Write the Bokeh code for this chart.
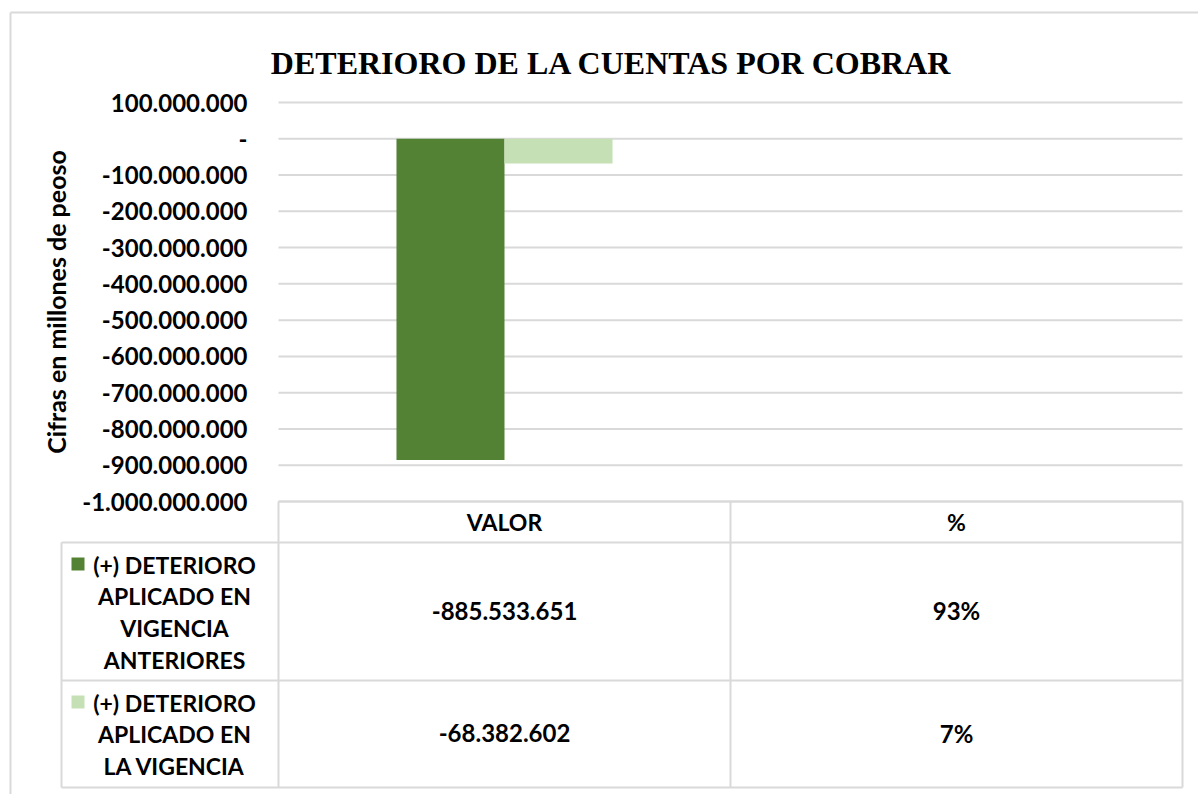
import numpy as np
from bokeh.plotting import figure
from bokeh.models import Range1d, LinearAxis, FixedTicker, ColumnDataSource, Label
from bokeh.core.properties import value
from bokeh.transform import dodge
from bokeh.embed import file_html
from bokeh.resources import INLINE

# ---------------- data ----------------
title = "DETERIORO DE LA CUENTAS POR COBRAR"
y_title = "Cifras en millones de peoso"
categories = ["VALOR", "%"]
series_names = [
    "(+) DETERIORO APLICADO EN VIGENCIA ANTERIORES",
    "(+) DETERIORO APLICADO EN LA VIGENCIA",
]
series_lines = [
    ["(+) DETERIORO", "APLICADO EN", "VIGENCIA", "ANTERIORES"],
    ["(+) DETERIORO", "APLICADO EN", "LA VIGENCIA"],
]
valor = [-885533651, -68382602]
pct = [0.93, 0.07]
pct_labels = ["93%", "7%"]
y_ticks = [100000000, 0, -100000000, -200000000, -300000000, -400000000,
           -500000000, -600000000, -700000000, -800000000, -900000000, -1000000000]
y_tick_labels = ["100.000.000", "-", "-100.000.000", "-200.000.000", "-300.000.000",
                 "-400.000.000", "-500.000.000", "-600.000.000", "-700.000.000",
                 "-800.000.000", "-900.000.000", "-1.000.000.000"]
colors = ["#548235", "#C5E0B4"]

# ---------------- layout (canvas pixels) ----------------
W, H = 1198, 794
Y_TOP_PX, Y_BOT_PX = 102, 501         # pixel rows of the top / bottom value ticks
COL0, COLW = 278, 452                 # plot area left edge, width of one category
TABLE_LEFT = 61
HEADER_BOTTOM = 542
ROW_BOTTOMS = [680, 787]
LINE_H = 31.7
GRID = "#d9d9d9"
FONT = "Lato"

y_max, y_min = max(y_ticks), min(y_ticks)
k = (Y_BOT_PX - Y_TOP_PX) / (y_max - y_min)
val_range = Range1d(y_min - (H - Y_BOT_PX) / k, y_max + Y_TOP_PX / k)
cat_range = Range1d(-COL0 / COLW, (W - COL0) / COLW)

p = figure(width=W, height=H, x_range=Range1d(0, W), y_range=Range1d(H, 0),
           title=None, x_axis_type=None, y_axis_type=None,
           output_backend="svg", toolbar_location=None, min_border=0,
           outline_line_color=None, background_fill_color="white",
           border_fill_color="white")
p.extra_y_ranges = {"val": val_range}
p.extra_x_ranges = {"cat": cat_range}

ncat = len(categories)

# outer chart border (top / left)
p.segment(x0=[10, 10], y0=[12, 12], x1=[W, 10], y1=[12, H], line_color=GRID, line_width=2)

# gridlines
p.segment(x0=0, x1=ncat, y0=y_ticks, y1=y_ticks, x_range_name="cat", y_range_name="val",
          line_color=GRID, line_width=2)

# bars
BAR_W = 0.239
offsets = [-BAR_W / 2, BAR_W / 2]
for j in range(len(valor)):
    src = ColumnDataSource(dict(x=[i + 0.5 for i in range(ncat)], top=[valor[j], pct[j]]))
    p.vbar(x=dodge("x", offsets[j]), top="top", bottom=0, width=BAR_W, source=src,
           fill_color=colors[j], line_color=None, x_range_name="cat", y_range_name="val")

# y axis
ax = LinearAxis(y_range_name="val", fixed_location=COL0,
                ticker=FixedTicker(ticks=y_ticks),
                major_label_overrides={t: l for t, l in zip(y_ticks, y_tick_labels)},
                bounds=(y_min, y_max), axis_label=y_title)
ax.axis_line_color = None
ax.major_tick_line_color = None
ax.minor_tick_line_color = None
ax.major_tick_out = 0
ax.major_tick_in = 0
ax.major_label_standoff = 31
ax.major_label_text_font = FONT
ax.major_label_text_font_style = "bold"
ax.major_label_text_font_size = "24px"
ax.major_label_text_color = "black"
ax.axis_label_text_font = FONT
ax.axis_label_text_font_style = "bold"
ax.axis_label_text_font_size = "25px"
ax.axis_label_text_color = "black"
ax.axis_label_standoff = 8
p.add_layout(ax, "left")

# title
p.add_layout(Label(x=611, y=62, text=title, text_font="Liberation Serif",
                   text_font_style="bold", text_font_size="32px", text_color="black",
                   text_align="center", text_baseline="alphabetic"))

# ---------------- data table ----------------
right_px = COL0 + ncat * COLW
hy = [Y_BOT_PX, HEADER_BOTTOM] + ROW_BOTTOMS
hx0 = [COL0, TABLE_LEFT] + [TABLE_LEFT] * len(ROW_BOTTOMS)
p.segment(x0=hx0, x1=right_px, y0=hy, y1=hy, line_color=GRID, line_width=2)
p.segment(x0=list(range(ncat + 1)), x1=list(range(ncat + 1)), y0=Y_BOT_PX, y1=ROW_BOTTOMS[-1],
          x_range_name="cat", line_color=GRID, line_width=2)
p.segment(x0=TABLE_LEFT, x1=TABLE_LEFT, y0=HEADER_BOTTOM, y1=ROW_BOTTOMS[-1],
          line_color=GRID, line_width=2)

txt = dict(text_font=value(FONT), text_font_style="bold", text_font_size="23px",
           text_color="black", text_align="center", text_baseline="middle")

# header
p.text(x=[i + 0.5 for i in range(ncat)], y=(Y_BOT_PX + HEADER_BOTTOM) / 2, text=categories,
       x_range_name="cat", **txt)

row_tops = [HEADER_BOTTOM] + ROW_BOTTOMS[:-1]
row_mids = [(a + b) / 2 for a, b in zip(row_tops, ROW_BOTTOMS)]
valor_labels = [f"{v:,}".replace(",", ".") for v in valor]
vtxt = dict(txt, text_font_size="24px")
for r in range(len(valor)):
    p.text(x=[0.5, 1.5], y=row_mids[r] - 1, text=[valor_labels[r], pct_labels[r]],
           x_range_name="cat", **vtxt)
    lines = series_lines[r]
    y0 = row_tops[r] + 22
    p.text(x=174, y=[y0 + n * LINE_H for n in range(len(lines))], text=lines, **txt)
    p.scatter(x=[77.5], y=[y0 - 0.5], marker="square", size=13, fill_color=colors[r],
              line_color=None)

open("out.html", "w").write(file_html(p, INLINE))
